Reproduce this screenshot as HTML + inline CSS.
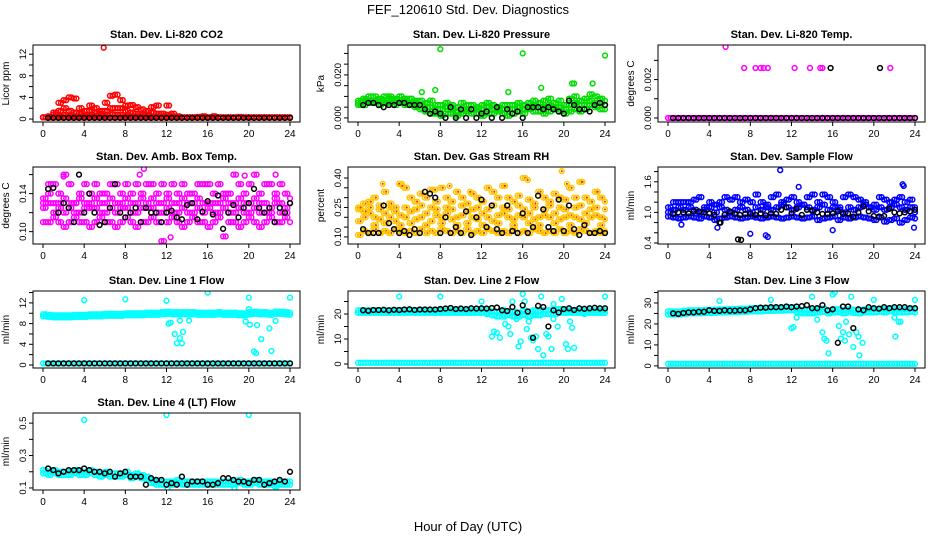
<!DOCTYPE html>
<html><head><meta charset="utf-8"><style>
html,body{margin:0;padding:0;background:#fff;}
svg{display:block;font-family:"Liberation Sans",Arial,sans-serif;}
</style></head><body>
<svg id="chart" width="936" height="540" viewBox="0 0 936 540" xmlns="http://www.w3.org/2000/svg">
<rect width="936" height="540" fill="#fff"/>
<text x="468" y="14" font-size="13" text-anchor="middle">FEF_120610  Std. Dev. Diagnostics</text>
<text x="468" y="531" font-size="13" text-anchor="middle">Hour of Day (UTC)</text>
</svg>
<script>
// x tick values (hours)
const xTicks = [0,4,8,12,16,20,24];

// ---- Panel 1: CO2
const co2Main = [0.3,0.5,1.2,3.0,3.5,4.0,3.8,2.0,1.5,2.5,2.0,1.5,3.0,4.3,4.5,3.5,2.5,2.6,2.2,1.8,1.5,2.2,2.5,1.0,2.5,1.0,0.5,0.3,0.3,0.3,0.4,0.5,0.3,0.5,0.3,0.3,0.3,0.3,0.4,0.3,0.3,0.3,0.3,0.3,0.3,0.3,0.3,0.3,0.3];
const co2Low = [0.3,0.3,0.8,1.5,2.0,1.5,1.2,1.0,0.8,1.5,1.2,1.0,1.5,2.0,2.0,2.0,1.5,1.2,1.0,0.8,0.8,1.2,1.0,0.5,0.8,0.5,0.3,0.3,0.3,0.3,0.3,0.3,0.3,0.3,0.3,0.3,0.3,0.3,0.3,0.3,0.3,0.3,0.3,0.3,0.3,0.3,0.3,0.3,0.3];
const co2Base = [0.3,0.3,0.3,0.6,0.8,0.6,0.5,0.5,0.4,0.7,0.6,0.5,0.7,0.9,0.8,0.8,0.6,0.5,0.5,0.4,0.4,0.5,0.5,0.3,0.4,0.3,0.3,0.3,0.3,0.3,0.3,0.3,0.3,0.3,0.3,0.3,0.3,0.3,0.3,0.3,0.3,0.3,0.3,0.3,0.3,0.3,0.3,0.3,0.3];
const co2Out = [[5.9,13.2]];
const co2Black = [0.2,0.2,0.2,0.2,0.2,0.2,0.2,0.2,0.2,0.2,0.2,0.2,0.2,0.2,0.2,0.2,0.2,0.2,0.2,0.2,0.2,0.2,0.2,0.2,0.2,0.2,0.2,0.2,0.2,0.2,0.2,0.2,0.2,0.2,0.2,0.2,0.2,0.2,0.2,0.2,0.2,0.2,0.2,0.2,0.2,0.2,0.2,0.2];
const co2BlackOut = [];

// ---- Panel 2: Pressure
const presMain = [0.008,0.009,0.010,0.010,0.009,0.010,0.010,0.009,0.010,0.009,0.009,0.008,0.008,0.007,0.008,0.006,0.006,0.007,0.006,0.005,0.007,0.006,0.006,0.005,0.006,0.007,0.006,0.005,0.006,0.006,0.006,0.007,0.006,0.007,0.008,0.007,0.008,0.009,0.007,0.008,0.006,0.009,0.010,0.008,0.009,0.011,0.010,0.009,0.008];
const presMid = [0.007,0.008,0.008,0.008,0.008,0.008,0.009,0.008,0.008,0.008,0.007,0.007,0.006,0.005,0.005,0.004,0.004,0.005,0.004,0.003,0.004,0.004,0.004,0.004,0.004,0.005,0.004,0.004,0.004,0.004,0.004,0.005,0.004,0.005,0.006,0.005,0.005,0.006,0.005,0.005,0.004,0.006,0.007,0.006,0.006,0.008,0.007,0.007,0.006];
const presLow = [0.006,0.006,0.007,0.007,0.006,0.007,0.007,0.006,0.007,0.006,0.006,0.005,0.004,0.003,0.002,0.002,0.001,0.002,0.002,0.001,0.002,0.003,0.002,0.002,0.001,0.002,0.002,0.003,0.002,0.001,0.002,0.003,0.002,0.004,0.003,0.003,0.002,0.003,0.004,0.003,0.002,0.003,0.004,0.003,0.004,0.006,0.005,0.004,0.004];
const presOut = [[8,0.032],[16,0.030],[24,0.029],[7.5,0.013],[6.2,0.012],[20.8,0.016],[21,0.016],[17.8,0.014],[22.8,0.016],[14.6,0.012]];
const presBlack = [0.006,0.007,0.007,0.006,0.005,0.006,0.006,0.007,0.007,0.006,0.006,0.006,0.004,0.002,0.003,0.002,0.000,0.005,0.000,0.004,0.000,0.004,0.000,0.002,0.003,0.000,0.005,0.000,0.004,0.002,0.003,0.000,0.005,0.005,0.005,0.004,0.005,0.004,0.003,0.002,0.008,0.006,0.004,0.004,0.003,0.006,0.007,0.006];
const presBlackOut = [];

// ---- Panel 3: Li-820 Temp
const tempMain = [0,0,0,0,0,0,0,0,0,0,0,0,0,0,0,0,0,0,0,0,0,0,0,0,0,0,0,0,0,0,0,0,0,0,0,0,0,0,0,0,0,0,0,0,0,0,0,0,0];
const tempOut = [[5.6,0.0037],[7.4,0.0026],[8.5,0.0026],[9,0.0026],[9.3,0.0026],[9.7,0.0026],[12.3,0.0026],[13.8,0.0026],[14.8,0.0026],[15,0.0026],[21.6,0.0026]];
const tempBlack = [0,0,0,0,0,0,0,0,0,0,0,0,0,0,0,0,0,0,0,0,0,0,0,0,0,0,0,0,0,0,0,0,0,0,0,0,0,0,0,0,0,0,0,0,0,0,0,0];
const tempBlackOut = [[15.8,0.0026],[20.6,0.0026]];

// ---- Panel 4: Amb Box Temp
const ambHi = [0.13,0.15,0.15,0.14,0.16,0.15,0.13,0.14,0.15,0.14,0.15,0.14,0.14,0.15,0.15,0.14,0.15,0.14,0.15,0.14,0.15,0.15,0.14,0.15,0.14,0.15,0.14,0.15,0.14,0.14,0.15,0.15,0.15,0.14,0.15,0.14,0.14,0.16,0.15,0.14,0.15,0.16,0.14,0.15,0.15,0.14,0.15,0.14,0.13];
const ambMid = [0.125,0.13,0.12,0.13,0.12,0.125,0.13,0.12,0.125,0.13,0.125,0.12,0.13,0.125,0.12,0.13,0.125,0.13,0.12,0.125,0.13,0.125,0.12,0.13,0.125,0.13,0.12,0.125,0.13,0.12,0.125,0.13,0.125,0.12,0.13,0.125,0.12,0.13,0.125,0.13,0.12,0.125,0.13,0.12,0.125,0.13,0.12,0.125,0.13];
const ambMid2 = [0.135,0.14,0.13,0.125,0.135,0.13,0.12,0.135,0.13,0.125,0.135,0.13,0.12,0.135,0.13,0.125,0.135,0.12,0.13,0.135,0.125,0.135,0.13,0.12,0.135,0.12,0.13,0.135,0.12,0.13,0.135,0.12,0.13,0.13,0.12,0.135,0.13,0.12,0.135,0.12,0.13,0.135,0.12,0.13,0.12,0.135,0.13,0.12,0.135];
const ambLo = [0.11,0.11,0.115,0.11,0.105,0.11,0.115,0.11,0.11,0.105,0.11,0.115,0.11,0.11,0.105,0.11,0.115,0.11,0.105,0.11,0.11,0.115,0.11,0.09,0.11,0.115,0.11,0.105,0.11,0.115,0.11,0.11,0.105,0.11,0.115,0.095,0.11,0.11,0.105,0.11,0.115,0.11,0.105,0.11,0.115,0.11,0.11,0.115,0.11];
const ambOut = [[9.8,0.166],[9.4,0.160],[12.4,0.094],[22.6,0.16],[2,0.158],[19.6,0.159]];
const ambBlack = [0.145,0.146,0.12,0.13,0.125,0.11,0.16,0.12,0.14,0.12,0.107,0.11,0.125,0.15,0.12,0.115,0.12,0.125,0.11,0.125,0.12,0.12,0.11,0.12,0.122,0.115,0.113,0.128,0.13,0.113,0.121,0.132,0.118,0.138,0.103,0.12,0.128,0.115,0.125,0.13,0.145,0.125,0.12,0.125,0.11,0.125,0.12,0.13];
const ambBlackOut = [];

// ---- Panel 5: Gas Stream RH
const rhHi = [0.25,0.27,0.28,0.30,0.26,0.33,0.27,0.25,0.37,0.35,0.30,0.28,0.32,0.30,0.34,0.28,0.35,0.30,0.28,0.33,0.30,0.27,0.32,0.30,0.28,0.35,0.33,0.30,0.36,0.30,0.28,0.31,0.40,0.29,0.27,0.33,0.30,0.28,0.32,0.30,0.29,0.35,0.30,0.38,0.30,0.28,0.33,0.30,0.28];
const rhMid = [0.18,0.2,0.22,0.2,0.19,0.22,0.2,0.18,0.21,0.2,0.23,0.19,0.2,0.22,0.18,0.21,0.2,0.22,0.19,0.2,0.21,0.23,0.2,0.19,0.22,0.2,0.18,0.21,0.22,0.2,0.19,0.21,0.2,0.22,0.19,0.2,0.21,0.2,0.22,0.19,0.2,0.21,0.2,0.19,0.22,0.2,0.21,0.2,0.19];
const rhMid2 = [0.24,0.23,0.25,0.16,0.24,0.17,0.25,0.23,0.16,0.25,0.17,0.24,0.26,0.16,0.25,0.24,0.17,0.25,0.24,0.16,0.26,0.17,0.24,0.25,0.16,0.24,0.26,0.17,0.25,0.24,0.16,0.26,0.24,0.17,0.25,0.16,0.24,0.26,0.17,0.25,0.24,0.16,0.25,0.26,0.17,0.24,0.25,0.16,0.24];
const rhLo = [0.11,0.13,0.12,0.14,0.12,0.13,0.12,0.14,0.13,0.12,0.13,0.12,0.14,0.12,0.13,0.12,0.14,0.13,0.12,0.13,0.12,0.14,0.12,0.13,0.12,0.14,0.13,0.12,0.13,0.12,0.14,0.12,0.13,0.12,0.14,0.13,0.12,0.13,0.12,0.14,0.12,0.13,0.12,0.14,0.13,0.12,0.13,0.12,0.13];
const rhOut = [[19.8,0.435],[16.5,0.39],[21.8,0.38],[2.4,0.37],[4,0.37],[4.3,0.36],[8.9,0.36],[20.3,0.37],[14.3,0.36],[7.5,0.34],[10.9,0.33],[23.3,0.33]];
const rhBlack = [0.14,0.12,0.12,0.12,0.26,0.17,0.14,0.12,0.13,0.11,0.14,0.12,0.33,0.32,0.30,0.12,0.20,0.12,0.15,0.12,0.23,0.11,0.20,0.29,0.15,0.26,0.14,0.12,0.26,0.13,0.12,0.22,0.12,0.15,0.31,0.24,0.15,0.13,0.29,0.13,0.26,0.14,0.11,0.16,0.12,0.12,0.13,0.12];
const rhBlackOut = [];

// ---- Panel 6: Sample Flow
const sfHi = [1.1,1.2,1.2,1.2,1.2,1.25,1.3,1.1,1.2,1.15,1.2,1.3,1.25,1.3,1.2,1.25,1.2,1.35,1.2,1.15,1.3,1.35,1.2,1.25,1.3,1.2,1.15,1.3,1.35,1.2,1.35,1.3,1.2,1.1,1.3,1.35,1.3,1.25,1.2,1.1,1.15,1.3,1.25,1.2,1.25,1.3,1.2,1.25,1.1];
const sfMid = [1.0,1.05,1.1,1.05,1.1,1.05,1.0,1.05,1.1,1.0,1.1,1.05,1.0,1.05,1.1,1.05,1.0,1.1,1.05,1.1,1.05,1.1,1.15,1.1,1.05,1.1,1.15,1.1,1.05,1.1,1.15,1.05,1.1,1.05,1.0,1.1,1.05,1.1,1.15,1.1,1.05,1.1,1.05,1.1,1.15,1.1,1.05,1.1,1.0];
const sfLo = [0.92,0.9,0.88,0.9,0.92,0.9,0.88,0.92,0.9,0.85,0.88,0.9,0.92,0.9,0.88,0.9,0.92,0.9,0.88,0.9,0.92,0.9,0.88,0.9,0.92,0.9,0.88,0.9,0.92,0.85,0.88,0.9,0.92,0.85,0.9,0.88,0.9,0.92,0.9,0.88,0.85,0.9,0.82,0.85,0.88,0.8,0.85,0.9,0.88];
const sfOut = [[10.9,1.83],[12.7,1.5],[22.8,1.55],[22.9,1.52],[16,0.65],[9.5,0.55],[9.7,0.52],[4.8,0.7],[8,0.58],[23.9,0.7],[1.3,0.76]];
const sfBlack = [0.97,1.0,1.0,0.98,1.02,1.02,1.0,0.98,0.95,0.8,0.95,1.02,0.97,0.95,0.97,0.97,0.95,0.98,0.94,0.98,0.97,1.05,1.1,0.98,1.07,0.95,1.05,1.03,1.0,0.97,0.97,0.98,1.02,0.97,0.98,0.92,1.0,1.12,1.02,0.93,0.92,0.93,1.07,1.0,0.98,1.0,1.02,1.05];
const sfBlackOut = [[6.8,0.47],[7.1,0.46],[5.1,0.8]];

// ---- Panel 7: Line 1 Flow
const l1Main = [9.4,9.3,9.2,9.2,9.2,9.2,9.3,9.3,9.3,9.4,9.4,9.4,9.5,9.5,9.5,9.5,9.6,9.6,9.6,9.6,9.7,9.7,9.7,9.8,9.9,9.8,9.8,9.8,9.8,9.8,9.7,9.7,9.7,9.7,9.8,9.7,9.7,9.7,9.6,9.6,9.8,9.9,9.8,9.8,9.7,9.9,9.9,9.8,9.7];
const l1Up = [9.8,9.7,9.6,9.6,9.6,9.6,9.7,9.7,9.7,9.8,9.8,9.8,9.9,9.9,9.9,9.9,10.0,10.0,10.0,10.0,10.1,10.1,10.1,10.2,10.3,10.2,10.2,10.2,10.2,10.2,10.1,10.1,10.1,10.1,10.2,10.1,10.1,10.1,10.0,10.0,10.2,10.3,10.2,10.2,10.1,10.3,10.3,10.2,10.1];
const l1Zero = [0.3,0.3,0.3,0.3,0.3,0.3,0.3,0.3,0.3,0.3,0.3,0.3,0.3,0.3,0.3,0.3,0.3,0.3,0.3,0.3,0.3,0.3,0.3,0.3,0.3,0.3,0.3,0.3,0.3,0.3,0.3,0.3,0.3,0.3,0.3,0.3,0.3,0.3,0.3,0.3,0.3,0.3,0.3,0.3,0.3,0.3,0.3,0.3,0.3];
const l1Out = [[4,12.5],[8,12.7],[12,12.4],[16,14],[20,13],[24,13],[12.2,8],[12.4,8.2],[12.8,6],[13,4.2],[13.3,5.2],[13.5,4.2],[13.6,6.4],[13.3,8.6],[14.2,8.6],[19.7,8.4],[20.1,7.8],[20.5,2.6],[20.7,2.3],[20.8,7.7],[21.2,5],[22,7.1],[22.2,2.7],[22.6,8.5],[20,10.8]];
const l1Black = [0.3,0.3,0.3,0.3,0.3,0.3,0.3,0.3,0.3,0.3,0.3,0.3,0.3,0.3,0.3,0.3,0.3,0.3,0.3,0.3,0.3,0.3,0.3,0.3,0.3,0.3,0.3,0.3,0.3,0.3,0.3,0.3,0.3,0.3,0.3,0.3,0.3,0.3,0.3,0.3,0.3,0.3,0.3,0.3,0.3,0.3,0.3,0.3];
const l1BlackOut = [];

// ---- Panel 8: Line 2 Flow
const l2Main = [20.5,20.5,20.5,20.5,20.5,20.5,20.5,20.5,20.5,20.5,20.5,20.5,20.5,20.5,20.5,20.5,20.5,20.5,20.5,20.5,20.5,20.5,20.5,20.5,20.5,20.0,19.5,19.0,19.0,19.5,19.0,19.0,19.5,19.0,19.5,19.5,20.0,20.0,20.0,20.5,20.5,20.5,20.5,20.5,20.5,20.5,20.5,20.5,20.5];
const l2Up = [21.5,21.5,21.5,21.5,21.5,21.5,21.5,21.5,21.5,21.5,21.5,21.5,21.5,21.5,21.5,21.5,21.5,21.5,21.5,21.5,21.5,21.5,21.5,21.5,21.8,21.5,21.0,21.0,21.5,21.0,21.0,20.5,21.5,21.0,21.5,21.0,21.5,21.5,22.0,22.0,21.5,21.5,21.5,21.5,21.5,21.5,21.5,21.5,21.5];
const l2Zero = [0.5,0.5,0.5,0.5,0.5,0.5,0.5,0.5,0.5,0.5,0.5,0.5,0.5,0.5,0.5,0.5,0.5,0.5,0.5,0.5,0.5,0.5,0.5,0.5,0.5,0.5,0.5,0.5,0.5,0.5,0.5,0.5,0.5,0.5,0.5,0.5,0.5,0.5,0.5,0.5,0.5,0.5,0.5,0.5,0.5,0.5,0.5,0.5,0.5];
const l2Out = [[4,27],[8,27],[12,25],[24,27],[12.5,20],[13,11],[13.2,13],[13.5,12.5],[13.8,10.5],[14.3,16],[14.6,15],[14.8,12],[15,25],[15.4,18],[15.6,7],[15.8,9],[16,28],[16.2,25],[16.4,14],[16.6,17],[16.8,10.5],[17,9.5],[17.3,11],[17.5,6],[17.8,27],[18,3.5],[18.3,12],[18.5,11],[18.8,6],[19,24],[19.4,15],[19.8,26],[20.2,8],[20.4,6],[20.6,17],[20.8,14.5],[21,6.5],[17.2,20],[19,18],[22,20]];
const l2Black = [21.5,21.3,21.6,21.6,21.7,21.5,21.7,21.6,21.8,21.9,21.6,21.8,21.8,21.8,21.8,22,22.2,22.4,22,22.2,22,22.3,22.2,22.3,22.2,22.4,22.6,21.5,21.2,22.8,20.5,23.5,21,10.5,23.3,22.8,15,21.5,20.6,22,22.3,21.6,22.3,22.1,22.3,22.5,22.3,22.3];
const l2BlackOut = [];

// ---- Panel 9: Line 3 Flow
const l3Main = [24.5,24.5,24.5,24.8,25,25,25,25.2,25.2,25.3,25.5,25.5,25.6,25.6,25.8,25.8,26,26,26,26.2,26.2,26.3,26.3,26.5,26.5,25.5,25,25,25,25.5,25.8,25,25.5,25.5,25,25.5,25.2,25,25.5,25.5,25.5,25.8,25.5,26,25.5,25.5,25.5,25.8,25.5];
const l3Up = [26,26,26,26.3,26.5,26.5,26.5,26.7,26.7,26.8,27,27,27.1,27.1,27.3,27.3,27.5,27.5,27.5,27.7,27.7,27.8,27.8,28,28,27,26.5,26.5,26.5,27,27.3,26.5,27,27,26.5,27,26.7,26.5,27,27,27,27.3,27,27.5,27,27,27,27.3,27];
const l3Zero = [1,1,1,1,1,1,1,1,1,1,1,1,1,1,1,1,1,1,1,1,1,1,1,1,1,1,1,1,1,1,1,1,1,1,1,1,1,1,1,1,1,1,1,1,1,1,1,1,1];
const l3Out = [[5,31],[10,31.5],[20,31.5],[24,31.5],[12,18],[12.2,18.5],[12.5,23],[14,33],[14.5,22],[15,16],[15.2,13],[15.4,12],[15.6,6],[16,34],[16.2,35],[16.6,19],[16.8,13],[17,16],[17.2,12],[17.3,21],[17.6,15],[17.8,33],[18,9],[18.3,16],[18.5,14],[18.6,5],[18.9,11],[22.1,14],[22,23],[22.4,21],[22.6,21]];
const l3Black = [25,24.8,25.2,25.5,25.5,25.8,25.8,26.5,26.2,26.2,26.5,26.3,26.3,26.5,26.5,27,27.5,27.8,27.8,28,28,28,28.3,28,28.3,28.5,29,27.5,27.5,29,26.5,27,11,28.3,28.3,18,27,26.5,28,27.5,27.3,28,27.5,28,28,28,27.5,27.5];
const l3BlackOut = [];

// ---- Panel 10: Line 4 (LT) Flow
const l4Main = [0.21,0.2,0.21,0.2,0.2,0.2,0.21,0.2,0.2,0.21,0.2,0.19,0.2,0.19,0.19,0.19,0.2,0.18,0.19,0.18,0.17,0.15,0.14,0.14,0.14,0.14,0.15,0.14,0.14,0.14,0.14,0.14,0.14,0.14,0.14,0.14,0.14,0.14,0.15,0.14,0.14,0.15,0.14,0.14,0.14,0.13,0.14,0.14,0.14];
const l4Low = [0.19,0.18,0.19,0.18,0.18,0.18,0.19,0.18,0.18,0.19,0.18,0.17,0.18,0.17,0.17,0.17,0.18,0.16,0.17,0.16,0.15,0.13,0.12,0.12,0.12,0.12,0.13,0.12,0.12,0.12,0.12,0.12,0.12,0.12,0.12,0.12,0.12,0.12,0.13,0.12,0.12,0.13,0.12,0.12,0.12,0.11,0.12,0.12,0.12];
const l4Out = [[4,0.52],[12,0.55],[20,0.55],[12.1,0.1],[18.6,0.1]];
const l4Black = [0.22,0.21,0.19,0.2,0.21,0.21,0.21,0.22,0.21,0.2,0.2,0.19,0.2,0.17,0.19,0.2,0.17,0.17,0.17,0.12,0.16,0.15,0.15,0.12,0.13,0.12,0.17,0.12,0.14,0.14,0.14,0.12,0.12,0.13,0.16,0.16,0.15,0.14,0.14,0.13,0.15,0.15,0.12,0.13,0.14,0.15,0.14,0.2];
const l4BlackOut = [];

const colX = [33,348,658];
const rowY = [45,167,291,413];
const W = 267, H = 77;

const panels = [
 {id:'co2',c:0,r:0,title:'Stan. Dev. Li-820 CO2',ylab:'Licor ppm',ylim:[-0.55,13.7],ticks:[0,2,4,6,8,10,12],labels:['0','','4','','8','','12'],col:'#ff0000',series:[co2Base,co2Low,co2Main,co2Main.map(()=>0.3)],out:co2Out,black:co2Black,bout:co2BlackOut},
 {id:'pressure',c:1,r:0,title:'Stan. Dev. Li-820 Pressure',ylab:'kPa',ylim:[-0.0019,0.0339],ticks:[0,0.005,0.01,0.015,0.02,0.025,0.03],labels:['0.000','','','','0.020','',''],col:'#00dd00',series:[presLow,presMid,presMain],out:presOut,black:presBlack,bout:presBlackOut},
 {id:'li820-temp',c:2,r:0,title:'Stan. Dev. Li-820 Temp.',ylab:'degrees C',ylim:[-0.00021,0.0038],ticks:[0,0.001,0.002,0.003],labels:['0.000','','0.002',''],col:'#ff00ff',series:[tempMain],out:tempOut,black:tempBlack,bout:tempBlackOut},
 {id:'amb-box-temp',c:0,r:1,title:'Stan. Dev. Amb. Box Temp.',ylab:'degrees C',ylim:[0.087,0.168],ticks:[0.10,0.12,0.14,0.16],labels:['0.10','','0.14',''],col:'#ff00ff',series:[ambLo,ambMid,ambMid2,ambHi],out:ambOut,black:ambBlack,bout:ambBlackOut},
 {id:'gas-rh',c:1,r:1,title:'Stan. Dev. Gas Stream RH',ylab:'percent',ylim:[0.064,0.456],ticks:[0.10,0.15,0.20,0.25,0.30,0.35,0.40],labels:['0.10','','','0.25','','','0.40'],col:'#ffc800',inner:'#e03000',series:[rhLo,rhMid,rhMid2,rhHi],out:rhOut,black:rhBlack,bout:rhBlackOut},
 {id:'sample-flow',c:2,r:1,title:'Stan. Dev. Sample Flow',ylab:'ml/min',ylim:[0.38,1.89],ticks:[0.4,0.6,0.8,1.0,1.2,1.4,1.6,1.8],labels:['0.4','','','1.0','','','1.6',''],col:'#0000ff',series:[sfLo,sfMid,sfHi],out:sfOut,black:sfBlack,bout:sfBlackOut},
 {id:'line1-flow',c:0,r:2,title:'Stan. Dev. Line 1 Flow',ylab:'ml/min',ylim:[-0.58,14.3],ticks:[0,2,4,6,8,10,12,14],labels:['0','','4','','8','','12',''],col:'#00ffff',series:[l1Zero,l1Main,l1Up],out:l1Out,black:l1Black,bout:l1BlackOut},
 {id:'line2-flow',c:1,r:2,title:'Stan. Dev. Line 2 Flow',ylab:'ml/min',ylim:[-1.6,29.2],ticks:[0,5,10,15,20,25],labels:['0','','10','','20',''],col:'#00ffff',series:[l2Zero,l2Main,l2Up],out:l2Out,black:l2Black,bout:l2BlackOut},
 {id:'line3-flow',c:2,r:2,title:'Stan. Dev. Line 3 Flow',ylab:'ml/min',ylim:[-1,35.7],ticks:[0,5,10,15,20,25,30,35],labels:['0','','10','','20','','30',''],col:'#00ffff',series:[l3Zero,l3Main,l3Up],out:l3Out,black:l3Black,bout:l3BlackOut},
 {id:'line4-flow',c:0,r:3,title:'Stan. Dev. Line 4 (LT) Flow',ylab:'ml/min',ylim:[0.0875,0.5625],ticks:[0.1,0.2,0.3,0.4,0.5],labels:['0.1','','0.3','','0.5'],col:'#00ffff',series:[l4Low,l4Main],out:l4Out,black:l4Black,bout:l4BlackOut}
];

const NS='http://www.w3.org/2000/svg';
const svg=document.getElementById('chart');
function mk(tag,attrs,parent){const e=document.createElementNS(NS,tag);for(const k in attrs)e.setAttribute(k,attrs[k]);(parent||svg).appendChild(e);return e;}

panels.forEach(p=>{
  const L=colX[p.c], T=rowY[p.r];
  const xs=t=>L+10+t*(247/24);
  const ys=v=>T+H-(v-p.ylim[0])/(p.ylim[1]-p.ylim[0])*H;
  const g=mk('g',{});
  
  
  const clip=mk('clipPath',{id:'clip-'+p.id},g);
  mk('rect',{x:L,y:T,width:W,height:H},clip);
  const title=mk('text',{x:L+W/2,y:T-7,'font-size':11,'font-weight':'bold','text-anchor':'middle'},g);
  title.textContent=p.title;
  
  
  const yl=mk('text',{x:0,y:0,'font-size':10,'text-anchor':'middle',transform:`translate(${L-24},${T+H/2}) rotate(-90)`},g);
  yl.textContent=p.ylab;
  
  
  const xa=mk('g',{},g);
  
  
  mk('line',{x1:xs(0),x2:xs(24),y1:T+H,y2:T+H,stroke:'#000','stroke-width':1},xa);
  xTicks.forEach(t=>{
    mk('line',{x1:xs(t),x2:xs(t),y1:T+H,y2:T+H+4,stroke:'#000','stroke-width':1},xa);
    const tx=mk('text',{x:xs(t),y:T+H+15,'font-size':10,'text-anchor':'middle'},xa);
    tx.textContent=t;
    
    
  });
  const ya=mk('g',{},g);
  
  
  p.ticks.forEach((v,i)=>{
    const y=ys(v);
    mk('line',{x1:L-4,x2:L,y1:y,y2:y,stroke:'#000','stroke-width':1},ya);
    if(p.labels[i]){
      const tx=mk('text',{x:0,y:0,'font-size':9.5,'text-anchor':'middle',transform:`translate(${L-7},${y}) rotate(-90)`},ya);
      tx.textContent=p.labels[i];
      
      
    }
  });
  const pts=mk('g',{'clip-path':`url(#clip-${p.id})`},g);
  
  
  const dot=(t,v,color,inner)=>{
    const c=mk('circle',{cx:xs(t).toFixed(1),cy:ys(v).toFixed(1),r:2.4,fill:'none',stroke:color,'stroke-width':1.5},pts);
    
    
    if(inner){mk('circle',{cx:xs(t).toFixed(1),cy:ys(v).toFixed(1),r:1,fill:inner},pts);}
  };
  // each colored series sample is drawn as a pair of overlapping marks to mimic the dense 10-min sampling
  p.series.forEach(arr=>{arr.forEach((v,i)=>{const t=i*24/(arr.length-1);dot(t,v,p.col,p.inner);if(t+0.25<=24)dot(t+0.25,v,p.col,p.inner);});});
  p.out.forEach(([t,v])=>dot(t,v,p.col,p.inner));
  p.black.forEach((v,i)=>dot(0.5+i*0.5,v,'#000'));
  p.bout.forEach(([t,v])=>dot(t,v,'#000'));
  const box=mk('rect',{x:L,y:T,width:W,height:H,fill:'none',stroke:'#000','stroke-width':1},g);
  
  
});
</script>
</body></html>
